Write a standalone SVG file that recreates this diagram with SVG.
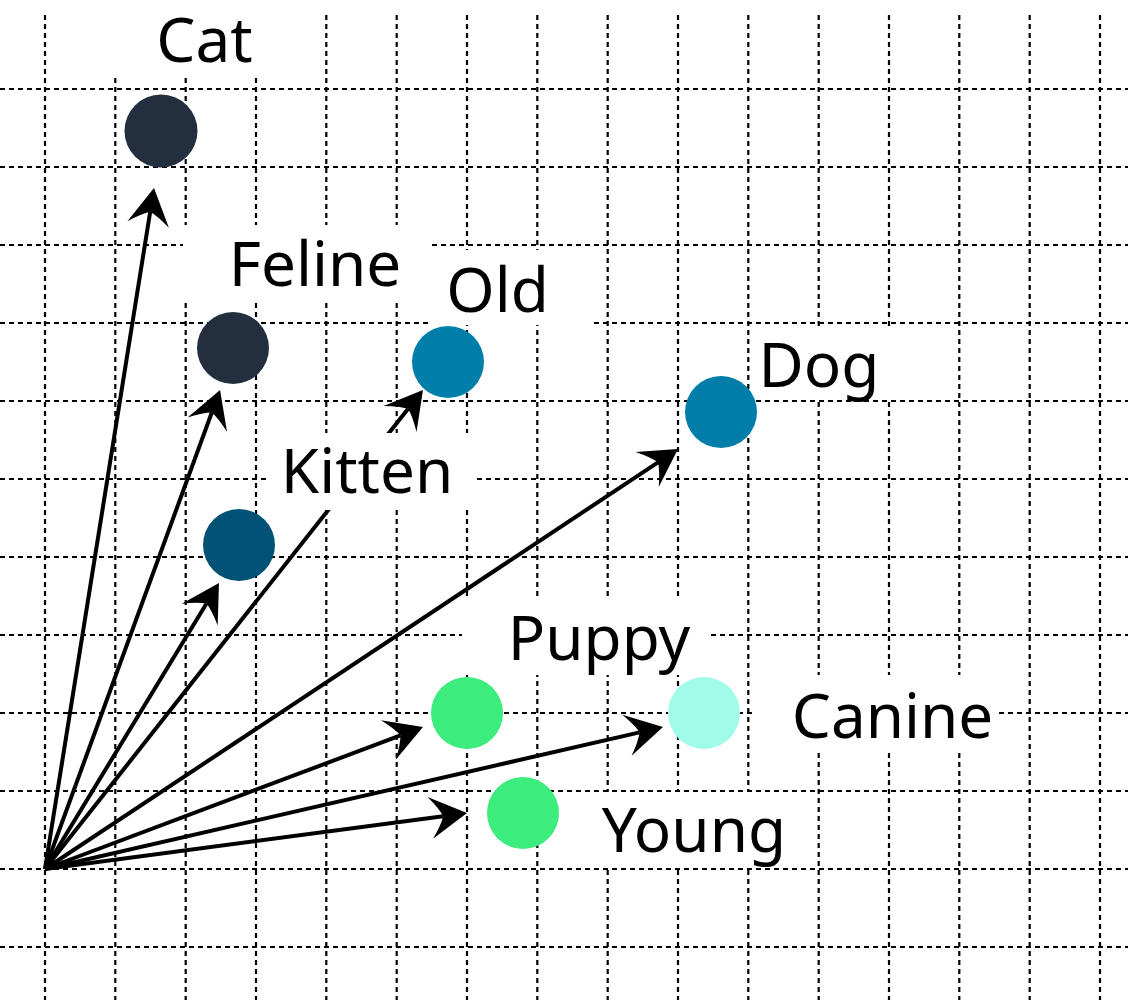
<svg xmlns="http://www.w3.org/2000/svg" width="1128" height="1000" viewBox="0 0 1128 1000">
<defs>
<style>
.grid line{stroke:#000;stroke-width:2.2;stroke-dasharray:5 4;fill:none}
.conn line{stroke:#000;stroke-width:4;fill:none}
.box{fill:#fff;stroke:none}
.lbl{font-family:"Noto Sans","Open Sans",sans-serif;font-size:62px;fill:#000;text-anchor:middle}
.c-dark{fill:#232F3E}
.c-kit{fill:#015274}
.c-blue{fill:#017DAA}
.c-green{fill:#3CEC7C}
.c-aqua{fill:#A0FCE9}
</style>
<marker id="ah" viewBox="-16 -24 44 48" markerWidth="44" markerHeight="48" refX="0" refY="0" orient="auto" markerUnits="userSpaceOnUse">
<path d="M24,0 L-13,-21 Q-3,-8 0,0 Q-3,8 -13,21 Z" fill="#000"/>
</marker>
</defs>
<rect width="1128" height="1000" fill="#fff"/>
<g class="grid" id="grid">
<line x1="45" y1="15" x2="45" y2="1000"/>
<line x1="115.3" y1="15" x2="115.3" y2="1000"/>
<line x1="185.7" y1="15" x2="185.7" y2="1000"/>
<line x1="256" y1="15" x2="256" y2="1000"/>
<line x1="326.3" y1="15" x2="326.3" y2="1000"/>
<line x1="396.7" y1="15" x2="396.7" y2="1000"/>
<line x1="467" y1="15" x2="467" y2="1000"/>
<line x1="537.3" y1="15" x2="537.3" y2="1000"/>
<line x1="607.7" y1="15" x2="607.7" y2="1000"/>
<line x1="678" y1="15" x2="678" y2="1000"/>
<line x1="748.3" y1="15" x2="748.3" y2="1000"/>
<line x1="818.7" y1="15" x2="818.7" y2="1000"/>
<line x1="889" y1="15" x2="889" y2="1000"/>
<line x1="959.3" y1="15" x2="959.3" y2="1000"/>
<line x1="1029.7" y1="15" x2="1029.7" y2="1000"/>
<line x1="1100" y1="15" x2="1100" y2="1000"/>
<line x1="0" y1="89" x2="1128" y2="89"/>
<line x1="0" y1="167" x2="1128" y2="167"/>
<line x1="0" y1="245" x2="1128" y2="245"/>
<line x1="0" y1="323" x2="1128" y2="323"/>
<line x1="0" y1="401" x2="1128" y2="401"/>
<line x1="0" y1="479" x2="1128" y2="479"/>
<line x1="0" y1="557" x2="1128" y2="557"/>
<line x1="0" y1="635" x2="1128" y2="635"/>
<line x1="0" y1="713" x2="1128" y2="713"/>
<line x1="0" y1="791" x2="1128" y2="791"/>
<line x1="0" y1="869" x2="1128" y2="869"/>
<line x1="0" y1="947" x2="1128" y2="947"/>
</g>
<g class="conn" id="connectors">
<line x1="45" y1="869" x2="150.2" y2="211.7" marker-end="url(#ah)"/>
<line x1="45" y1="869" x2="211.8" y2="412.5" marker-end="url(#ah)"/>
<line x1="45" y1="869" x2="206.5" y2="603.5" marker-end="url(#ah)"/>
<line x1="45" y1="869" x2="408.1" y2="408.8" marker-end="url(#ah)"/>
<line x1="45" y1="869" x2="658" y2="462.3" marker-end="url(#ah)"/>
<line x1="45" y1="869" x2="400.5" y2="735.4" marker-end="url(#ah)"/>
<line x1="45" y1="869" x2="639.6" y2="732.4" marker-end="url(#ah)"/>
<line x1="45" y1="869" x2="443.2" y2="816.2" marker-end="url(#ah)"/>
</g>
<g id="node-cat">
<rect class="box" x="70" y="0" width="240" height="75"/>
<circle class="c-dark" cx="161" cy="131" r="36.5"/>
<text class="lbl" x="204.5" y="62">Cat</text>
</g>
<g id="node-feline">
<rect class="box" x="183" y="225" width="249" height="75"/>
<circle class="c-dark" cx="233" cy="348" r="36"/>
<text class="lbl" x="315" y="286">Feline</text>
</g>
<g id="node-old">
<rect class="box" x="428" y="250" width="165" height="75"/>
<circle class="c-blue" cx="448" cy="362" r="36"/>
<text class="lbl" x="497.5" y="312">Old</text>
</g>
<g id="node-kitten">
<rect class="box" x="270" y="433" width="203" height="77"/>
<circle class="c-kit" cx="239" cy="545" r="36"/>
<text class="lbl" x="367" y="493">Kitten</text>
</g>
<g id="node-dog">
<rect class="box" x="757" y="326" width="161" height="73"/>
<circle class="c-blue" cx="721" cy="412" r="36"/>
<text class="lbl" x="819" y="387">Dog</text>
</g>
<g id="node-puppy">
<rect class="box" x="462" y="598" width="248" height="77"/>
<circle class="c-green" cx="467" cy="713" r="36"/>
<text class="lbl" x="599" y="660">Puppy</text>
</g>
<g id="node-canine">
<rect class="box" x="752" y="675" width="246" height="77"/>
<circle class="c-aqua" cx="704" cy="713" r="36"/>
<text class="lbl" x="892.5" y="738">Canine</text>
</g>
<g id="node-young">
<rect class="box" x="559" y="792" width="236" height="74"/>
<circle class="c-green" cx="523" cy="813" r="36"/>
<text class="lbl" x="694" y="852">Young</text>
</g>
</svg>
